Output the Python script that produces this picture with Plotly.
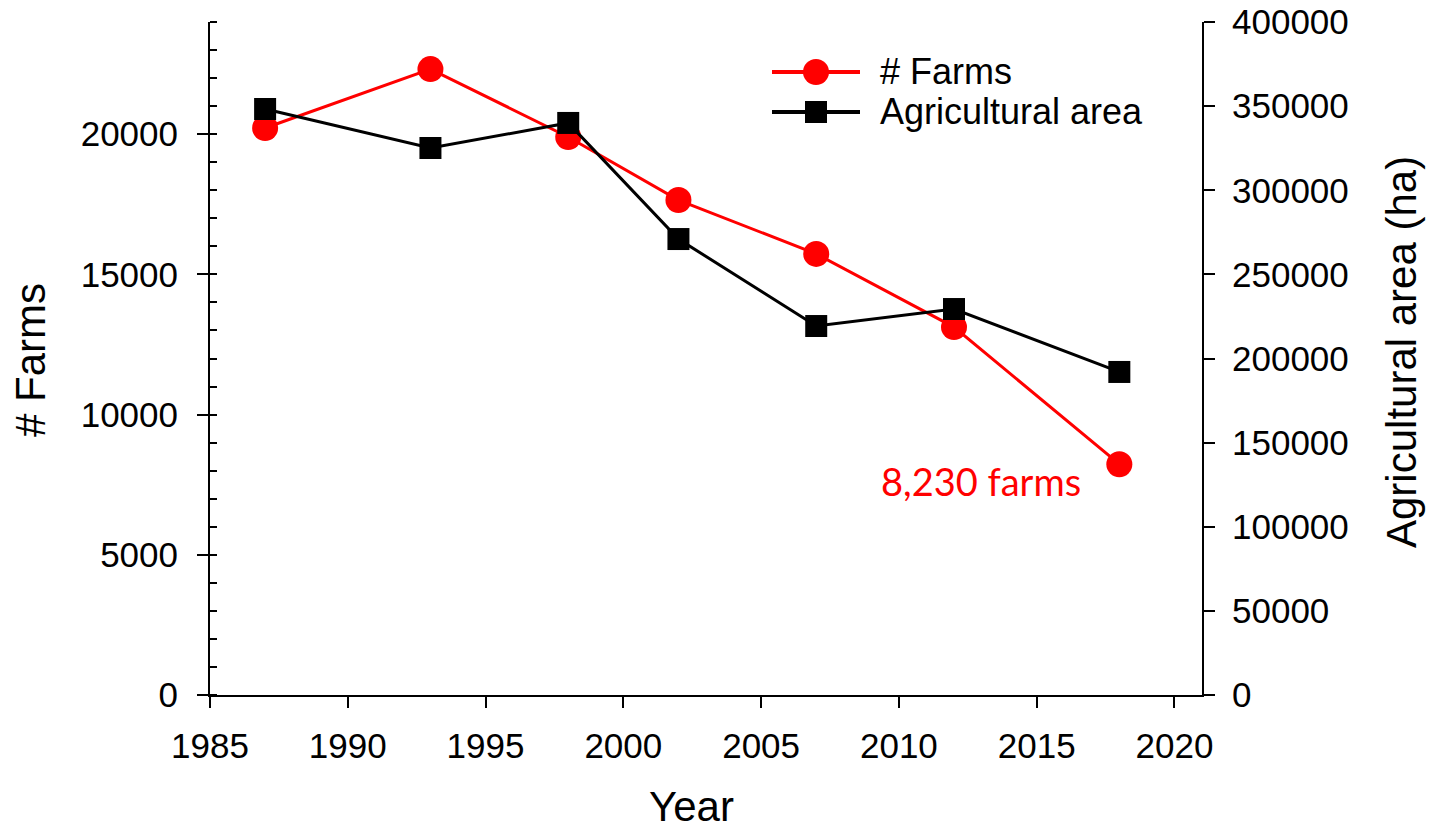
import plotly.graph_objects as go

years = [1987, 1993, 1998, 2002, 2007, 2012, 2018]
farms = [20220, 22320, 19900, 17650, 15730, 13120, 8230]
area_ha = [348300, 325100, 340000, 271000, 219300, 229400, 192000]
annotation_text = "8,230 farms"
series_names = ["# Farms", "Agricultural area"]
x_title = "Year"
y_title = "# Farms"
y2_title = "Agricultural area (ha)"

FONT = "Liberation Sans, Arial, sans-serif"
RED = "#ff0000"
BLACK = "#000000"

# body margin removed via post_script, so figure starts at page (0, 0)
OFF = 0
PLOT_L, PLOT_R, PLOT_T, PLOT_B = 210, 1202, 22, 695
W, H = 1433, 831
PW, PH = PLOT_R - PLOT_L, PLOT_B - PLOT_T


def px(x):
    return (x - PLOT_L) / PW


def py(y):
    return (PLOT_B - y) / PH


fig = go.Figure()
fig.add_trace(go.Scatter(
    x=years, y=farms, name=series_names[0], mode="lines+markers",
    line=dict(color=RED, width=3),
    marker=dict(symbol="circle", size=26, color=RED),
    yaxis="y", showlegend=False))
fig.add_trace(go.Scatter(
    x=years, y=area_ha, name=series_names[1], mode="lines+markers",
    line=dict(color=BLACK, width=3),
    marker=dict(symbol="square", size=22, color=BLACK),
    yaxis="y2", showlegend=False))

fig.add_annotation(x=years[-1], y=farms[-1], xref="x", yref="y",
                   text=annotation_text, showarrow=False,
                   xanchor="right", yanchor="middle", xshift=-36, yshift=-17,
                   font=dict(family="Lato, Carlito, sans-serif", size=38, color=RED))

# axis titles
fig.add_annotation(x=px(691), y=py(806), xref="paper", yref="paper", text=x_title,
                   showarrow=False, xanchor="center", yanchor="middle",
                   font=dict(family=FONT, size=42, color="black"))
fig.add_annotation(x=px(30), y=py(360), xref="paper", yref="paper", text=y_title,
                   showarrow=False, xanchor="center", yanchor="middle", textangle=-90,
                   font=dict(family=FONT, size=42, color="black"))
fig.add_annotation(x=px(1401), y=py(352), xref="paper", yref="paper", text=y2_title,
                   showarrow=False, xanchor="center", yanchor="middle", textangle=-90,
                   font=dict(family=FONT, size=42, color="black"))

# custom legend
legend_rows = [(72, RED, "circle", 13), (112, BLACK, "rect", 11)]
for (ly, col, shp, half), name in zip(legend_rows, series_names):
    fig.add_shape(type="line", xref="paper", yref="paper",
                  x0=px(772), x1=px(860), y0=py(ly), y1=py(ly),
                  line=dict(color=col, width=4))
    fig.add_shape(type=shp, xref="paper", yref="paper",
                  xsizemode="pixel", ysizemode="pixel",
                  xanchor=px(816), yanchor=py(ly),
                  x0=-half, x1=half, y0=-half, y1=half,
                  fillcolor=col, line=dict(color=col, width=0))
    fig.add_annotation(x=px(878), y=py(ly), xref="paper", yref="paper", text=name,
                       showarrow=False, xanchor="left", yanchor="middle",
                       font=dict(family=FONT, size=36, color="black"))

axis_common = dict(showline=True, linecolor="black", linewidth=2,
                   showgrid=False, zeroline=False, ticks="outside",
                   tickcolor="black", tickwidth=2, ticklen=11,
                   automargin=False, tickformat="d", ticklabeloverflow="allow",
                   tickfont=dict(family=FONT, size=35, color="black"))

fig.update_layout(
    width=W, height=H,
    paper_bgcolor="white", plot_bgcolor="white",
    margin=dict(l=PLOT_L - OFF, r=W + OFF - PLOT_R, t=PLOT_T - OFF, b=H + OFF - PLOT_B),
    font=dict(family=FONT, color="black"),
    xaxis=dict(range=[1985, 2021], tickmode="linear", tick0=1985, dtick=5,
               ticklabelstandoff=8, **axis_common),
    yaxis=dict(range=[0, 24000], tickmode="linear", tick0=0, dtick=5000,
               ticklabelstandoff=12,
               minor=dict(ticks="inside", dtick=1000, ticklen=7,
                          tickcolor="black", tickwidth=2),
               **axis_common),
    yaxis2=dict(range=[0, 400000], tickmode="linear", tick0=0, dtick=50000,
                overlaying="y", side="right", ticklabelstandoff=10,
                **axis_common),
    yaxis3=dict(range=[0, 24000], tickmode="linear", tick0=0, dtick=5000,
                overlaying="y", side="left", anchor="x", showline=False,
                showgrid=False, zeroline=False, ticks="inside", ticklen=10,
                tickwidth=2, tickcolor="black", showticklabels=False),
    showlegend=False,
)

fig.write_html(
    "out.html",
    config={"displayModeBar": False},
    post_script="document.body.style.margin='0';document.body.style.overflow='hidden';",
)
